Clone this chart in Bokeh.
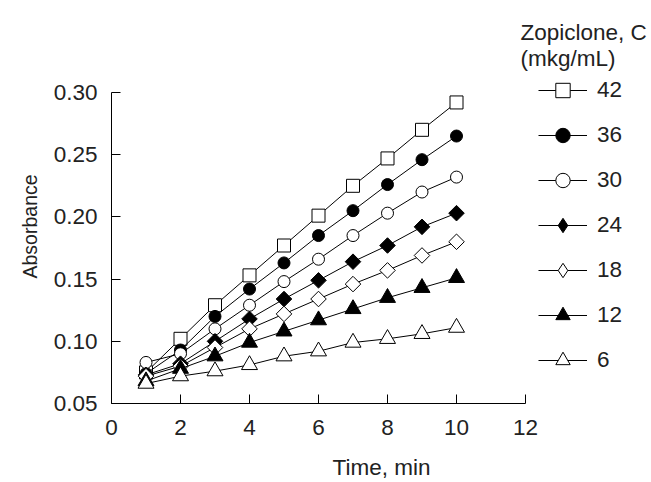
from bokeh.plotting import figure
from bokeh.models import Range1d, FixedTicker, PrintfTickFormatter, Legend, LegendItem, Label, Title
from bokeh.embed import file_html
from bokeh.resources import INLINE
import math

time_min = [1, 2, 3, 4, 5, 6, 7, 8, 9, 10]
conc_labels = ["42", "36", "30", "24", "18", "12", "6"]
abs_42 = [0.075, 0.102, 0.129, 0.153, 0.177, 0.201, 0.225, 0.247, 0.270, 0.292]
abs_36 = [0.074, 0.093, 0.120, 0.142, 0.163, 0.185, 0.205, 0.226, 0.246, 0.265]
abs_30 = [0.083, 0.090, 0.110, 0.129, 0.148, 0.166, 0.185, 0.203, 0.220, 0.232]
abs_24 = [0.073, 0.082, 0.100, 0.118, 0.134, 0.149, 0.164, 0.177, 0.192, 0.203]
abs_18 = [0.072, 0.080, 0.095, 0.110, 0.122, 0.134, 0.146, 0.157, 0.169, 0.180]
abs_12 = [0.068, 0.078, 0.088, 0.099, 0.108, 0.117, 0.126, 0.135, 0.143, 0.151]
abs_6 = [0.066, 0.072, 0.076, 0.081, 0.088, 0.092, 0.099, 0.102, 0.106, 0.111]
x_ticks = [0, 2, 4, 6, 8, 10, 12]
y_ticks = [0.05, 0.10, 0.15, 0.20, 0.25, 0.30]
legend_title_1 = "Zopiclone, C"
legend_title_2 = "(mkg/mL)"

series = [abs_42, abs_36, abs_30, abs_24, abs_18, abs_12, abs_6]
styles = [
    dict(marker="square", size=13, fill_color="white", rot=False),
    dict(marker="circle", size=12, fill_color="black", rot=False),
    dict(marker="circle", size=12, fill_color="white", rot=False),
    dict(marker="square", size=11, fill_color="black", rot=True),
    dict(marker="square", size=11, fill_color="white", rot=True),
    dict(marker="triangle", size=16, fill_color="black", rot=False),
    dict(marker="triangle", size=16, fill_color="white", rot=False),
]

FONT = "Liberation Sans"
TXT = "#222222"
FS = "22.5px"

# layout (pixels)
W, H = 651, 482
LEFT, BOTTOM = 111, 79
FRAME_W, FRAME_H = W - LEFT, H - BOTTOM
PX_PER_X = 414 / 12.0
PX_PER_Y = 311 / 0.25

p = figure(width=W, height=H, output_backend="svg", toolbar_location=None,
           x_range=Range1d(0, FRAME_W / PX_PER_X),
           y_range=Range1d(0.05, 0.05 + FRAME_H / PX_PER_Y),
           min_border_left=LEFT, min_border_right=0, min_border_top=0, min_border_bottom=BOTTOM)
p.outline_line_color = None
p.xgrid.visible = False
p.ygrid.visible = False
p.background_fill_color = "white"

for ax in (p.xaxis[0], p.yaxis[0]):
    ax.axis_line_color = "black"
    ax.major_tick_line_color = "black"
    ax.major_tick_in = 9
    ax.major_tick_out = 0
    ax.minor_tick_line_color = None
    ax.major_label_text_font = FONT
    ax.major_label_text_font_size = FS
    ax.major_label_text_color = TXT
    ax.axis_label_text_font = FONT
    ax.axis_label_text_font_size = FS
    ax.axis_label_text_font_style = "normal"
    ax.axis_label_text_color = TXT

p.xaxis.bounds = (x_ticks[0], x_ticks[-1])
p.yaxis.bounds = (y_ticks[0], y_ticks[-1])
p.xaxis.ticker = FixedTicker(ticks=x_ticks)
p.yaxis.ticker = FixedTicker(ticks=y_ticks)
p.yaxis.formatter = PrintfTickFormatter(format="%.2f")
p.xaxis.axis_label = "Time, min"
p.xaxis.major_label_standoff = 16
p.yaxis.major_label_standoff = 14
p.xaxis.axis_label_standoff = 17

ytitle = Title(text="Absorbance", align="left", offset=125, standoff=20,
               text_font=FONT, text_font_size="19.5px", text_font_style="normal", text_color=TXT)
p.add_layout(ytitle, "left")

items = []
for lab, ys, st in zip(conc_labels, series, styles):
    leg_glyph = None
    if st["rot"]:
        # diamond shown in the legend; in the plot it hides under the rotated square
        leg_glyph = p.scatter(time_min, ys, marker="diamond", size=1,
                              fill_color=st["fill_color"], line_color="black", line_width=1)
    r_line = p.line(time_min, ys, line_color="black", line_width=1)
    r_pts = p.scatter(time_min, ys, marker=st["marker"], size=st["size"],
                      angle=(math.pi / 4 if st["rot"] else 0.0),
                      fill_color=st["fill_color"], line_color="black", line_width=1)
    items.append(LegendItem(label=lab, renderers=[r_line, leg_glyph if leg_glyph is not None else r_pts]))

legend = Legend(items=items, location=(427, 25), orientation="vertical",
                glyph_width=49, glyph_height=36, label_height=36, spacing=9,
                label_standoff=10, padding=0, margin=0,
                border_line_color=None, background_fill_alpha=0,
                label_text_font=FONT, label_text_font_size=FS, label_text_color=TXT)
p.add_layout(legend, "center")

p.add_layout(Label(x=409, y=FRAME_H - 32, x_units="screen", y_units="screen",
                   text=legend_title_1, text_font=FONT, text_font_size=FS,
                   text_color=TXT, text_baseline="alphabetic", text_align="left"))
p.add_layout(Label(x=409, y=FRAME_H - 58, x_units="screen", y_units="screen",
                   text=legend_title_2, text_font=FONT, text_font_size=FS,
                   text_color=TXT, text_baseline="alphabetic", text_align="left"))

open("out.html", "w").write(file_html(p, INLINE))
